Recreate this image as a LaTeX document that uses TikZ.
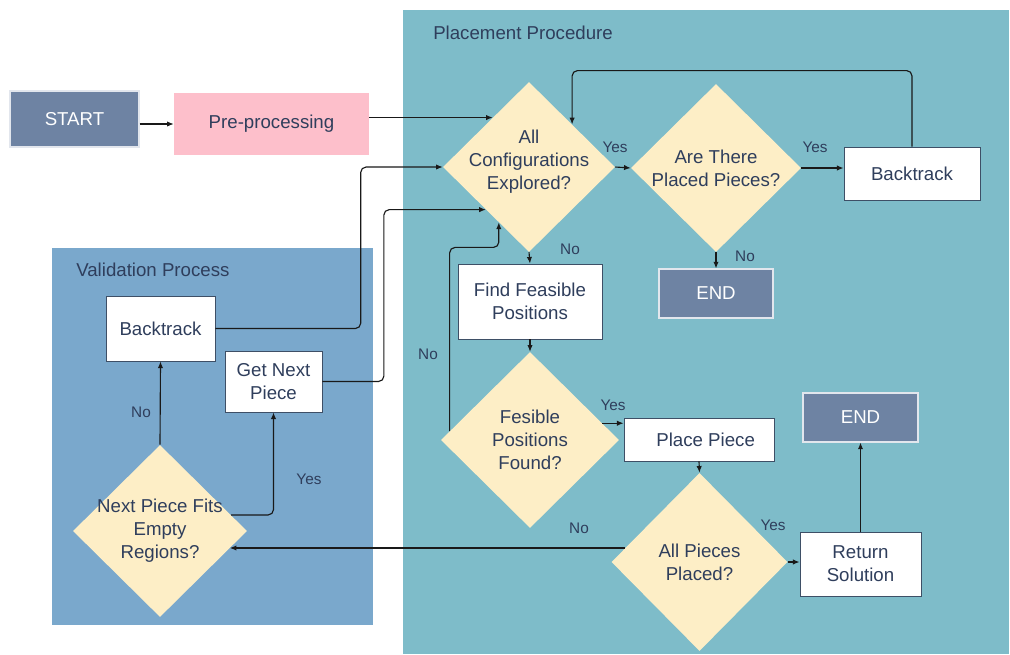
\documentclass[tikz,border=0pt]{standalone}
\usepackage{fontspec}
\setmainfont{Liberation Sans}
\usetikzlibrary{shapes.geometric,arrows.meta,calc}
\definecolor{placebg}{HTML}{7EBCC9}
\definecolor{validbg}{HTML}{7AA8CC}
\definecolor{termfill}{HTML}{6E83A3}
\definecolor{prefill}{HTML}{FDBFCB}
\definecolor{decfill}{HTML}{FDEEC6}
\definecolor{ink}{HTML}{2F3E5C}
\definecolor{boxline}{HTML}{3E4F66}

\begin{document}
\begin{tikzpicture}[x=0.75pt,y=-0.75pt,
  every node/.style={font=\fontsize{14}{17.2}\selectfont, text=ink, align=center},
  boxsize/.style 2 args={minimum width=#1*0.75pt, minimum height=#2*0.75pt},
  term/.style={fill=termfill, draw=white!80!termfill, line width=0.8pt, text=white, inner sep=0pt},
  procbox/.style={fill=white, draw=boxline, line width=0.6pt, inner sep=0pt},
  decision/.style={diamond, fill=decfill, draw=none, inner sep=0pt},
  tag/.style={font=\fontsize{11.5}{13}\selectfont},
  title/.style={anchor=west, inner sep=0pt},
  arr/.style={draw=black!90, line width=0.85pt, -{Latex[length=5pt,width=4pt]}},
]
\useasboundingbox (0,0) rectangle (1010,654);

% group backgrounds
\fill[placebg] (403,10) rectangle (1009,654);
\fill[validbg] (52,248) rectangle (373,625);
\node[title] (ptitle) at (433,33) {Placement Procedure};
\node[title] (vtitle) at (76,270) {Validation Process};

% entry
\node[term, boxsize={129}{56}] (start) at (74.5,119) {START};
\node[fill=prefill, inner sep=0pt, boxsize={195}{62}] (pre) at (271.5,124) {Pre-processing};

% placement procedure
\node[decision, boxsize={172}{170}] (cfg) at (529,167) {};
\node (cfgtext) at ($(cfg)+(0,-5)$) {All\\Configurations\\Explored?};
\node[decision, boxsize={170}{168}] (placed) at (716,168) {};
\node (placedtext) at (placed) {Are There\\Placed Pieces?};
\node[procbox, boxsize={136}{53}] (bt1) at (912,173.5) {Backtrack};
\node[term, boxsize={114}{49}] (end1) at (716,293.5) {END};
\node[procbox, boxsize={144}{75}] (find) at (530,301.5) {Find Feasible\\Positions};
\node[decision, boxsize={178}{176}] (fes) at (530,440) {};
\node (festext) at (fes) {Fesible\\Positions\\Found?};
\node[procbox, boxsize={150}{43}] (place) at (699,439.5) {\hspace{10pt}Place Piece};
\node[decision, boxsize={176}{178}] (all) at (699.5,562) {};
\node (alltext) at (all) {All Pieces\\Placed?};
\node[procbox, boxsize={121}{64}] (ret) at (860.5,564) {Return\\Solution};
\node[term, boxsize={115}{49}] (end2) at (860.5,417.5) {END};

% validation process
\node[procbox, boxsize={109}{65}] (bt2) at (160.5,328.5) {Backtrack};
\node[procbox, boxsize={97}{61}] (gnp) at (273.5,381.5) {Get Next\\Piece};
\node[decision, boxsize={174}{172}] (fit) at (160,531) {};
\node (fittext) at (fit) {Next Piece Fits\\Empty\\Regions?};

% points on diamond edges
\coordinate (cfgIn) at ($(cfg.west)!0.58!(cfg.north)$);
\coordinate (cfgNo) at ($(cfg.west)!0.65!(cfg.south)$);
\coordinate (fesNo) at ($(fes.west)!0.1!(fes.north)$);
\coordinate (fesYes) at ($(fes.east)!0.19!(fes.north)$);
\coordinate (allNo) at ($(all.west)!0.157!(all.north)$);
\coordinate (fitIn) at ($(fit.east)!0.2!(fit.south)$);
\coordinate (fitYes) at ($(fit.east)!0.186!(fit.north)$);

% connectors
\draw[arr] (start.east |- pre) -- (pre.west);
\draw[arr] (pre.east |- cfgIn) -- (cfgIn);
\draw[arr] (cfg.east) -- (placed.west);
\draw[arr] (placed.east) -- (placed.east -| bt1.west);
\draw[arr, rounded corners=4] (bt1.north) -- ++(0,-76) -| (cfg.north east);
\draw[arr] (placed.south) -- (end1.north);
\draw[arr] (cfg.south) -- (find.north);
\draw[arr] (find.south) -- (fes.north);
\draw[arr, rounded corners=4] (fesNo) |- ($(cfgNo)+(0,25)$) -- (cfgNo);
\draw[arr] (fesYes) -- (fesYes -| place.west);
\draw[arr] (place.south) -- (all.north);
\draw[arr] (all.east) -- (all.east -| ret.west);
\draw[arr] (ret.north) -- (end2.south);
\draw[arr] (allNo) -- (allNo -| fitIn);
\draw[arr, rounded corners=4] (fitYes) -| (gnp.south);
\draw[arr] (fit.north) -- (bt2.south);
\draw[arr, rounded corners=4] (bt2.east) -| ($(cfg.west)+(-82,0)$) -- (cfg.west);
\draw[arr, rounded corners=4] (gnp.east) -| ($(cfg.south west)+(-102,0)$) -- (cfg.south west);

% branch labels
\node[tag] (y1) at (615,147) {Yes};
\node[tag] (y2) at (815,147) {Yes};
\node[tag] (n1) at (570,249) {No};
\node[tag] (n2) at (745,256) {No};
\node[tag] (n3) at (428,354) {No};
\node[tag] (y3) at (613,405) {Yes};
\node[tag] (y4) at (773,525) {Yes};
\node[tag] (n4) at (579,528) {No};
\node[tag] (y5) at (309,479) {Yes};
\node[tag] (n5) at (141,412) {No};
\end{tikzpicture}
\end{document}
